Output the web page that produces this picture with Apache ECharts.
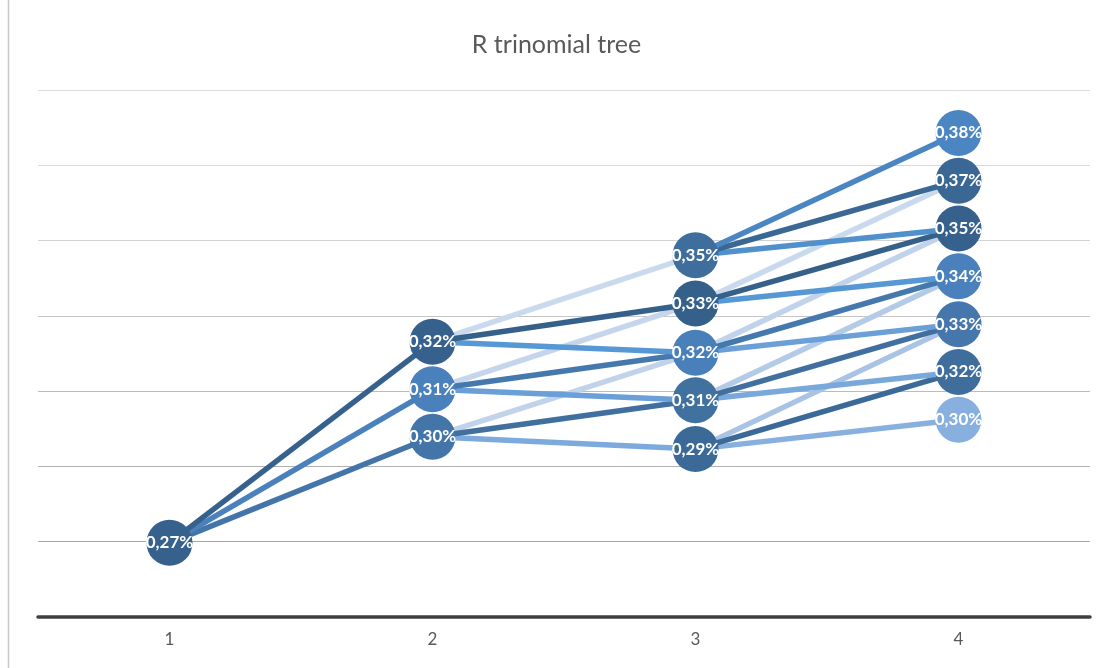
<!DOCTYPE html>
<html>
<head>
<meta charset="utf-8">
<title>R trinomial tree</title>
<script src="https://cdn.jsdelivr.net/npm/echarts@6/dist/echarts.min.js"></script>
<style>
  html, body { margin: 0; padding: 0; background: #ffffff; }
  #chart { width: 1113px; height: 668px; }
</style>
</head>
<body>
<div id="chart"></div>
<script>
// Time steps of the tree
const steps = ['1', '2', '3', '4'];

// Short rate (in %) at each node, listed bottom to top
const step1Rates = [0.2697];
const step2Rates = [0.2979, 0.3105, 0.3231];
const step3Rates = [0.2946, 0.3076, 0.3202, 0.3333, 0.3461];
const step4Rates = [0.3024, 0.3151, 0.3278, 0.3405, 0.3532, 0.3659, 0.3786];

// Value axis range
const rateMin = 0.25;
const rateMax = 0.39;
const rateStep = 0.02;

// Node fill colours, bottom to top
const nodeColors = [
  ['#36618c'],
  ['#4475a9', '#4a80bb', '#36618c'],
  ['#3c6a98', '#41719f', '#4a80b9', '#35608a', '#3f6e9c'],
  ['#88b0df', '#3f6d9c', '#4577ad', '#4a80bb', '#36618c', '#3a6793', '#4b86c2']
];

// Branch colours per source node (bottom to top): [down, middle, up]
const branchColors = [
  [['#4475a9', '#4a80bb', '#36618c']],
  [['#7daadc', '#41709f', '#c0d3ea'],
   ['#6a9fd8', '#4579ae', '#c5d6ec'],
   ['#5598d5', '#35608a', '#c9d9ee']],
  [['#88b0df', '#3b6a98', '#a9c3e4'],
   ['#79a8dc', '#41709f', '#b4cbe7'],
   ['#6a9fd8', '#4579ae', '#c0d3ea'],
   ['#5598d5', '#35608a', '#c9d9ee'],
   ['#5090cc', '#3a6793', '#4b86c2']]
];

const levels = [step1Rates, step2Rates, step3Rates, step4Rates];

function fmt(v) {
  return v.toFixed(2).replace('.', ',') + '%';
}

// Each node branches to three nodes of the next step: i, i+1, i+2
const lowerBranches = [];
const upperBranches = [];
for (let t = 0; t < levels.length - 1; t++) {
  levels[t].forEach(function (v, i) {
    for (let k = 0; k < 3; k++) {
      const color = branchColors[t][i][k];
      const light = (k === 2 && t > 0 && !(t === 2 && i === levels[t].length - 1));
      const s = {
        type: 'line',
        data: [[t, v], [t + 1, levels[t + 1][i + k]]],
        symbol: 'none',
        lineStyle: { color: color, width: 5.5, cap: 'butt', opacity: 1 },
        silent: true,
        z: light ? 2 : 3
      };
      (light ? lowerBranches : upperBranches).push(s);
    }
  });
}

const nodeData = [];
levels.forEach(function (lvl, t) {
  lvl.forEach(function (v, i) {
    nodeData.push({ value: [t, v], itemStyle: { color: nodeColors[t][i], opacity: 1 } });
  });
});

const chart = echarts.init(document.getElementById('chart'), null, { renderer: 'canvas' });
chart.setOption({
  animation: false,
  backgroundColor: '#ffffff',
  title: {
    text: 'R trinomial tree',
    left: 'center',
    top: 27,
    textStyle: { fontFamily: 'Lato', fontSize: 25, fontWeight: 'normal', color: '#595959' }
  },
  grid: { left: 38, right: 23, top: 90, bottom: 51 },
  xAxis: {
    type: 'category',
    data: steps,
    boundaryGap: true,
    axisLine: { lineStyle: { color: '#404040', width: 3.5 } },
    axisTick: { show: false },
    axisLabel: { color: '#595959', fontFamily: 'Lato', fontSize: 17, margin: 14 },
    splitLine: { show: false },
    z: 1
  },
  yAxis: {
    type: 'value',
    min: rateMin,
    max: rateMax,
    interval: rateStep,
    axisLine: { show: false },
    axisTick: { show: false },
    axisLabel: { show: false },
    splitLine: {
      lineStyle: {
        color: ['#a6a6a6', '#a6a6a6', '#b0b0b0', '#bcbcbc', '#c6c6c6', '#d2d2d2', '#d9d9d9', '#dcdcdc'],
        width: 1
      }
    }
  },
  graphic: [{
    type: 'line',
    shape: { x1: 8.5, y1: 0, x2: 8.5, y2: 668 },
    style: { stroke: '#c8c8c8', lineWidth: 1.5 },
    silent: true
  }],
  series: lowerBranches.concat(upperBranches).concat([{
    type: 'scatter',
    data: nodeData,
    symbol: 'circle',
    symbolSize: 46,
    z: 5,
    silent: true,
    itemStyle: { opacity: 1 },
    label: {
      show: true,
      position: 'inside',
      formatter: function (p) { return fmt(p.value[1]); },
      color: '#ffffff',
      fontFamily: 'Lato',
      fontWeight: 'bold',
      fontSize: 17
    }
  }])
});
</script>
</body>
</html>
